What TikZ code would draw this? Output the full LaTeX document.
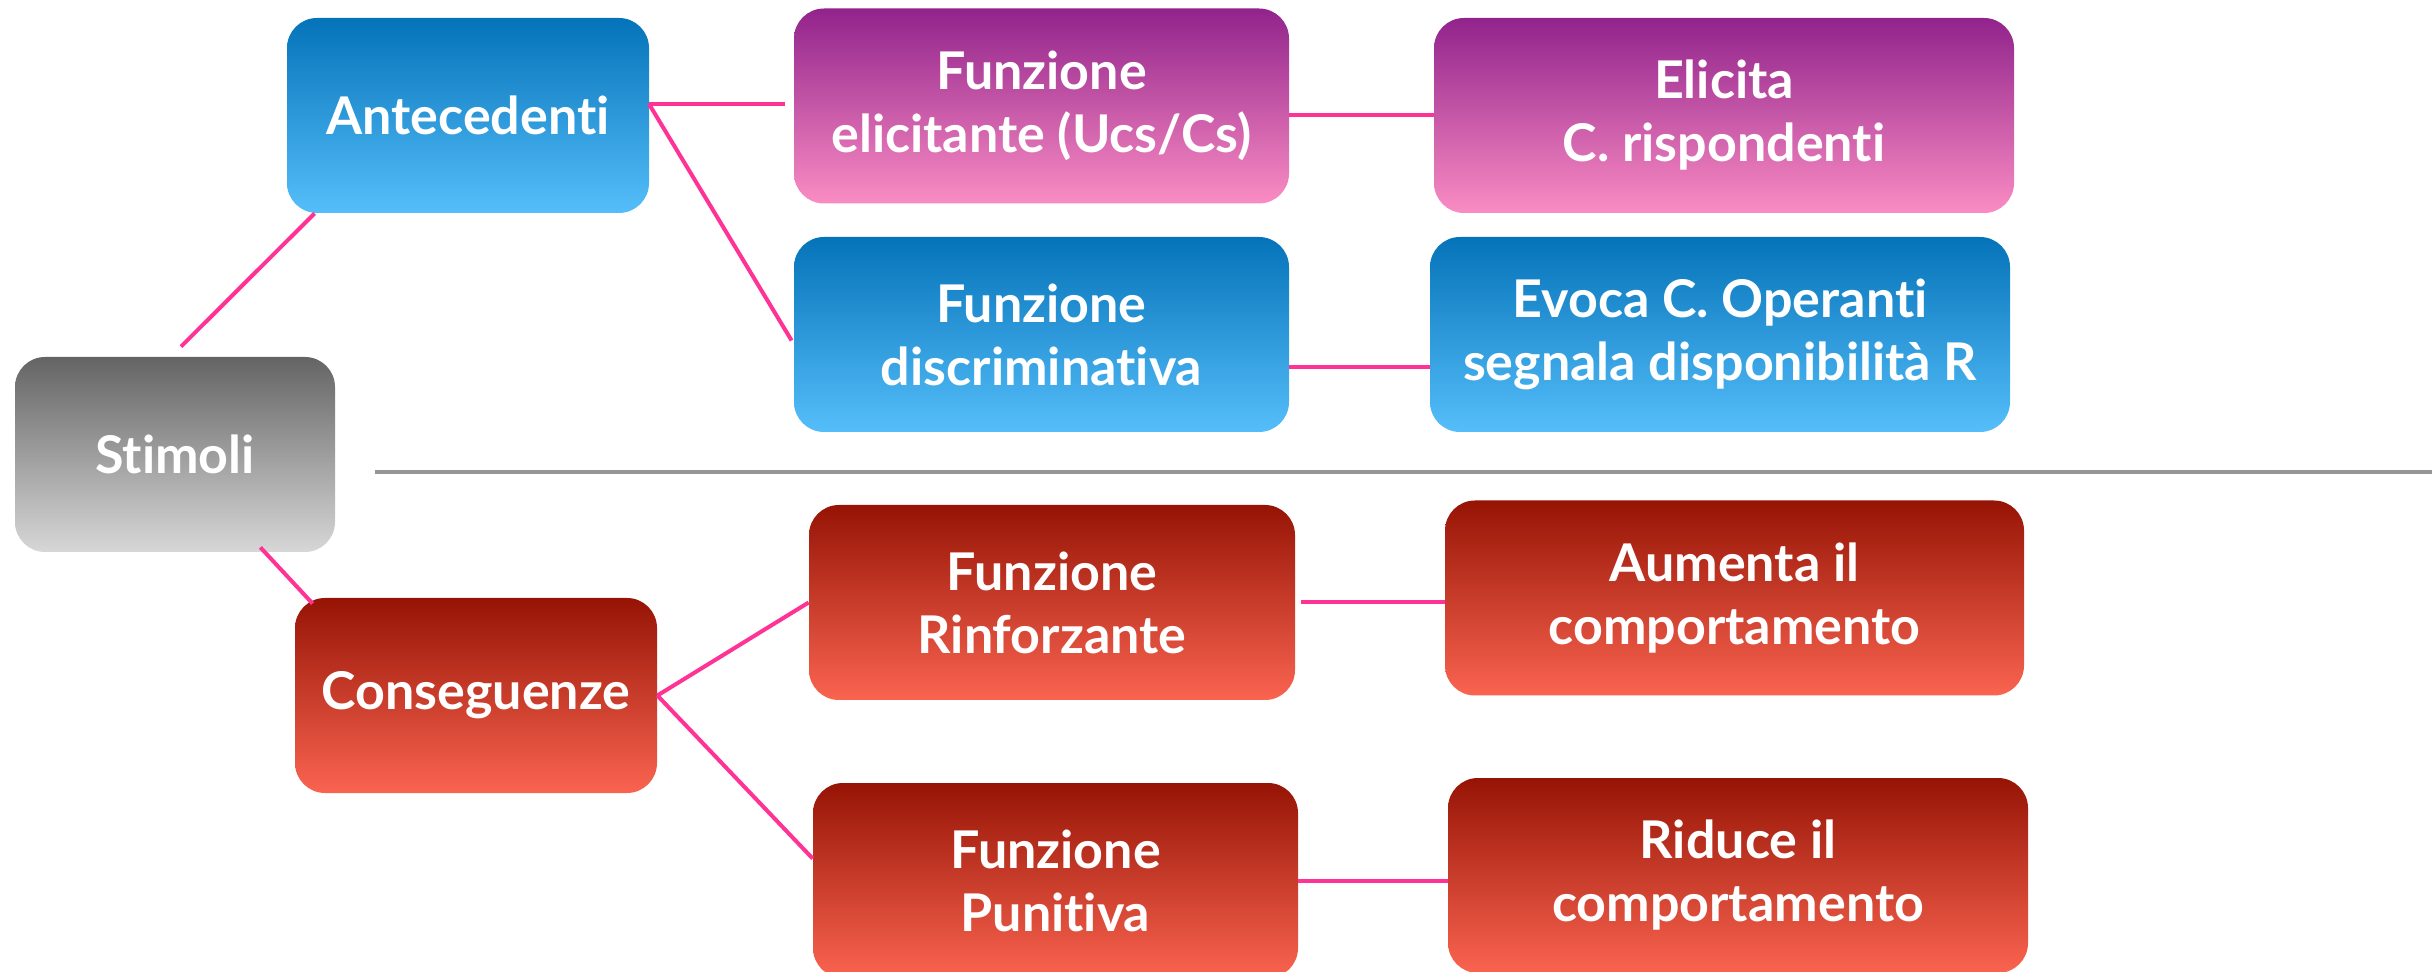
\documentclass[tikz,border=0pt]{standalone}
\usepackage{fontspec}
\setmainfont{Lato}[Ligatures=NoCommon]
\usepackage{tikz}
\usetikzlibrary{calc,positioning}
\usepackage{xcolor}
\definecolor{bluetop}{RGB}{5,115,185}
\definecolor{bluebot}{RGB}{85,190,250}
\definecolor{purptop}{RGB}{145,35,140}
\definecolor{purpbot}{RGB}{250,140,195}
\definecolor{redtop}{RGB}{150,20,5}
\definecolor{redbot}{RGB}{250,100,80}
\definecolor{graytop}{RGB}{100,100,100}
\definecolor{graybot}{RGB}{215,215,215}
\definecolor{qpink}{RGB}{255,50,150}
\definecolor{sepgray}{RGB}{150,150,150}

\begin{document}
\begin{tikzpicture}[
    x=0.5pt, y=-0.5pt,
    box/.style={rounded corners=15pt, minimum height=97.5pt, inner sep=0pt,
                align=center, text=white, font=\fontsize{26}{31.5}\selectfont\bfseries},
    blue_b/.style={box, top color=bluetop, bottom color=bluebot},
    purp_b/.style={box, top color=purptop, bottom color=purpbot},
    red_b/.style={box, top color=redtop, bottom color=redbot},
    gray_b/.style={box, top color=graytop, bottom color=graybot},
    link/.style={draw=qpink, line width=2pt},
    sep/.style={draw=sepgray, line width=2pt}
]
\useasboundingbox (0,0) rectangle (2432,972);

% Root
\node[gray_b, minimum width=160pt] (stim) at (175,454.5) {Stimoli};

% Antecedents
\node[blue_b, minimum width=181pt] (ant) at (468,115.5) {Antecedenti};
\node[purp_b, minimum width=247.5pt] (elic) at (1041.5,106) {Funzione\\elicitante (Ucs/Cs)};
\node[blue_b, minimum width=247.5pt] (disc) at (1041.5,334.5) {Funzione\\discriminativa};
\node[purp_b, minimum width=290pt] (resp) at (1724,115.5) {Elicita\\C. rispondenti};
\node[blue_b, minimum width=290pt] (evoca) at (1720,334.5) {Evoca C. Operanti\\segnala disponibilità R};

% Consequences
\node[red_b, minimum width=181pt] (cons) at (476,695.5) {Conseguenze};
\node[red_b, minimum width=243pt] (rinf) at (1052,602.5) {Funzione\\Rinforzante};
\node[red_b, minimum width=242.5pt] (pun) at (1055.5,880.5) {Funzione\\Punitiva};
\node[red_b, minimum width=289.5pt] (aum) at (1734.5,598) {Aumenta il\\comportamento};
\node[red_b, minimum width=290pt] (rid) at (1738,875.5) {Riduce il\\comportamento};

% Separator
\coordinate (sepl) at (375,472);
\coordinate (sepr) at (2432,472);
\draw[sep] (sepl) -- (sepr);

% Links
\coordinate (antj) at (649,104);
\draw[link] ($(stim.north)+(6,-10)$) -- ($(ant.south west)+(28,0)$);
\draw[link] (antj) -- ($(antj -| elic.west)+(-9,0)$);
\draw[link] (antj) -- ($(disc.west)+(-2,6)$);
\draw[link] (elic.east |- resp.west) -- (resp.west);
\draw[link] ($(disc.east)+(0,33)$) -- ($(evoca.west)+(0,33)$);

\draw[link] ($(stim.south east)+(-75,-5)$) -- ($(cons.north west)+(18,6)$);
\draw[link] (cons.east) -- (rinf.west);
\draw[link] (cons.east) -- ($(pun.west)+(0,-22)$);
\draw[link] ($(rinf.east)+(6,0)$) -- (rinf.east -| aum.west);
\draw[link] (pun.east) -- (pun.east -| rid.west);

\end{tikzpicture}
\end{document}
